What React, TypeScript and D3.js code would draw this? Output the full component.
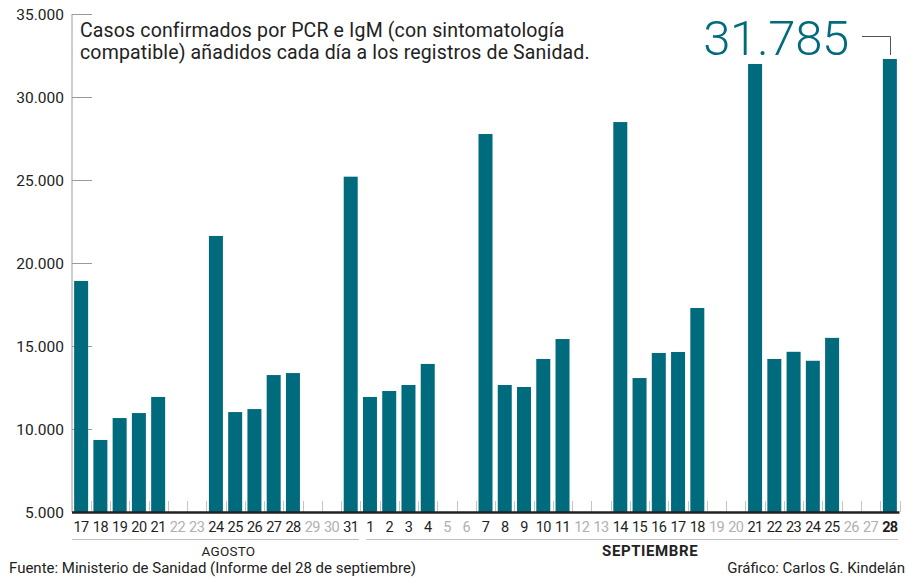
import { useEffect, useRef } from "react";
import * as d3 from "d3";

// Days shown on the x axis (17 Aug -> 28 Sep)
const dayLabels = [
  "17", "18", "19", "20", "21", "22", "23", "24", "25", "26", "27", "28", "29", "30", "31",
  "1", "2", "3", "4", "5", "6", "7", "8", "9", "10", "11", "12", "13", "14", "15", "16",
  "17", "18", "19", "20", "21", "22", "23", "24", "25", "26", "27", "28",
];
// Cases added each day (null = weekend, no report)
const dailyCases: (number | null)[] = [
  18920, 9340, 10660, 10960, 11930, null, null, 21630, 11020, 11200, 13250, 13370, null, null, 25200,
  11930, 12290, 12650, 13920, null, null, 27770, 12650, 12530, 14220, 15420, null, null,
  28490, 13070, 14580, 14640, 17290, null, null, 31990, 14220, 14650, 14110, 15490, null, null, 32290,
];
const monthNames = ["AGOSTO", "SEPTIEMBRE"];
const monthDayCounts = [15, 28];
const yTicks = [5000, 10000, 15000, 20000, 25000, 30000, 35000];

const titleLines = [
  "Casos confirmados por PCR e IgM (con sintomatología",
  "compatible) añadidos cada día a los registros de Sanidad.",
];
const highlightLabel = "31.785";
const sourceText = "Fuente: Ministerio de Sanidad (Informe del 28 de septiembre)";
const creditText = "Gráfico: Carlos G. Kindelán";

const TEAL = "#006b7d";
const FONT = "Roboto, 'Liberation Sans', sans-serif";

export default function App() {
  const ref = useRef<SVGSVGElement | null>(null);
  const width = 909;
  const height = 578;

  useEffect(() => {
    if (!ref.current) return;
    const svg = d3.select(ref.current);
    svg.selectAll("*").remove();

    const left = 71.5;
    const right = 899.5;
    const top = 14;
    const bottom = 512;

    const idx = dayLabels.map((_, i) => i);
    const x = d3.scaleBand<number>()
      .domain(idx)
      .range([left, right])
      .paddingInner(0.273)
      .paddingOuter(0.1365);
    const step = x.step();
    const bandStart = (i: number) => left + i * step;

    const y = d3.scaleLinear().domain([5000, 35000]).range([bottom, top]);

    const fmt = d3.formatLocale({ decimal: ",", thousands: ".", grouping: [3], currency: ["", "€"] }).format(",");

    // y axis line + short ticks
    svg.append("line")
      .attr("x1", 72).attr("x2", 72)
      .attr("y1", y(35000)).attr("y2", bottom)
      .attr("stroke", "#9a9a9a").attr("stroke-width", 1);

    svg.append("g").selectAll("line")
      .data(yTicks)
      .join("line")
      .attr("x1", 72).attr("x2", 92)
      .attr("y1", d => y(d) + 0.5).attr("y2", d => y(d) + 0.5)
      .attr("stroke", "#9a9a9a");

    svg.append("g").selectAll("text")
      .data(yTicks)
      .join("text")
      .attr("x", 64)
      .attr("y", d => y(d) + 5.5)
      .attr("text-anchor", "end")
      .style("font-family", FONT)
      .style("font-size", "15.5px")
      .style("fill", "#222")
      .text(d => fmt(d));

    // small ticks at day boundaries
    svg.append("g").selectAll("line")
      .data(d3.range(dayLabels.length + 1))
      .join("line")
      .attr("x1", i => Math.round(bandStart(i)) + 0.5)
      .attr("x2", i => Math.round(bandStart(i)) + 0.5)
      .attr("y1", 501).attr("y2", bottom)
      .attr("stroke", "#c4c4c4");

    // bars
    svg.append("g").selectAll("rect")
      .data(idx.filter(i => dailyCases[i] !== null))
      .join("rect")
      .attr("x", i => x(i)!)
      .attr("width", x.bandwidth())
      .attr("y", i => y(dailyCases[i] as number))
      .attr("height", i => bottom - y(dailyCases[i] as number))
      .attr("fill", TEAL);

    // baseline
    svg.append("line")
      .attr("x1", 72).attr("x2", right)
      .attr("y1", bottom + 0.5).attr("y2", bottom + 0.5)
      .attr("stroke", "#222").attr("stroke-width", 2.5);

    // day labels
    const last = dayLabels.length - 1;
    svg.append("g").selectAll("text")
      .data(idx)
      .join("text")
      .attr("x", i => x(i)! + x.bandwidth() / 2)
      .attr("y", 531.5)
      .attr("text-anchor", "middle")
      .style("font-family", FONT)
      .style("font-size", "14.5px")
      .style("letter-spacing", "-0.6px")
      .style("font-weight", i => (i === last ? "bold" : "normal"))
      .style("fill", i => (dailyCases[i] === null ? "#b0b0b0" : "#1e1e1e"))
      .text(i => dayLabels[i]);

    // month brackets
    let offset = 0;
    monthNames.forEach((name, m) => {
      const start = bandStart(offset) + (m === 0 ? 0.5 : 6);
      const end = bandStart(offset + monthDayCounts[m]) - 1.5;
      svg.append("line")
        .attr("x1", start).attr("x2", end)
        .attr("y1", 539.5).attr("y2", 539.5)
        .attr("stroke", "#bdbdbd");
      svg.append("text")
        .attr("x", (start + end) / 2 + (m === 0 ? 13 : 18))
        .attr("y", 556)
        .attr("text-anchor", "middle")
        .style("font-family", FONT)
        .style("font-size", m === 0 ? "13.5px" : "15px")
        .style("letter-spacing", m === 0 ? "0.2px" : "0.6px")
        .style("font-weight", m === 0 ? "normal" : "bold")
        .style("fill", "#222")
        .text(name);
      offset += monthDayCounts[m];
    });

    // title
    svg.append("g").selectAll("text")
      .data(titleLines)
      .join("text")
      .attr("x", 80)
      .attr("y", (_, i) => 37 + i * 22)
      .style("font-family", FONT)
      .style("font-size", "19.5px")
      .style("letter-spacing", "0.15px")
      .style("fill", "#222")
      .text(d => d);

    // highlighted last value
    svg.append("text")
      .attr("x", 849)
      .attr("y", 55)
      .attr("text-anchor", "end")
      .style("font-family", FONT)
      .style("font-size", "49px")
      .style("font-weight", 300)
      .style("letter-spacing", "-0.3px")
      .style("fill", TEAL)
      .text(highlightLabel);

    svg.append("path")
      .attr("d", "M862,36.5H890.5V55")
      .attr("fill", "none")
      .attr("stroke", "#555")
      .attr("stroke-width", 1);

    // footer
    svg.append("text")
      .attr("x", 9).attr("y", 573)
      .style("font-family", FONT).style("font-size", "15px").style("fill", "#222")
      .text(sourceText);
    svg.append("text")
      .attr("x", 905).attr("y", 573)
      .attr("text-anchor", "end")
      .style("font-family", FONT).style("font-size", "15px").style("fill", "#222")
      .text(creditText);
  }, []);

  return (
    <svg
      ref={ref}
      width={width}
      height={height}
      style={{ position: "absolute", left: 0, top: 0, background: "#fff" }}
    />
  );
}
